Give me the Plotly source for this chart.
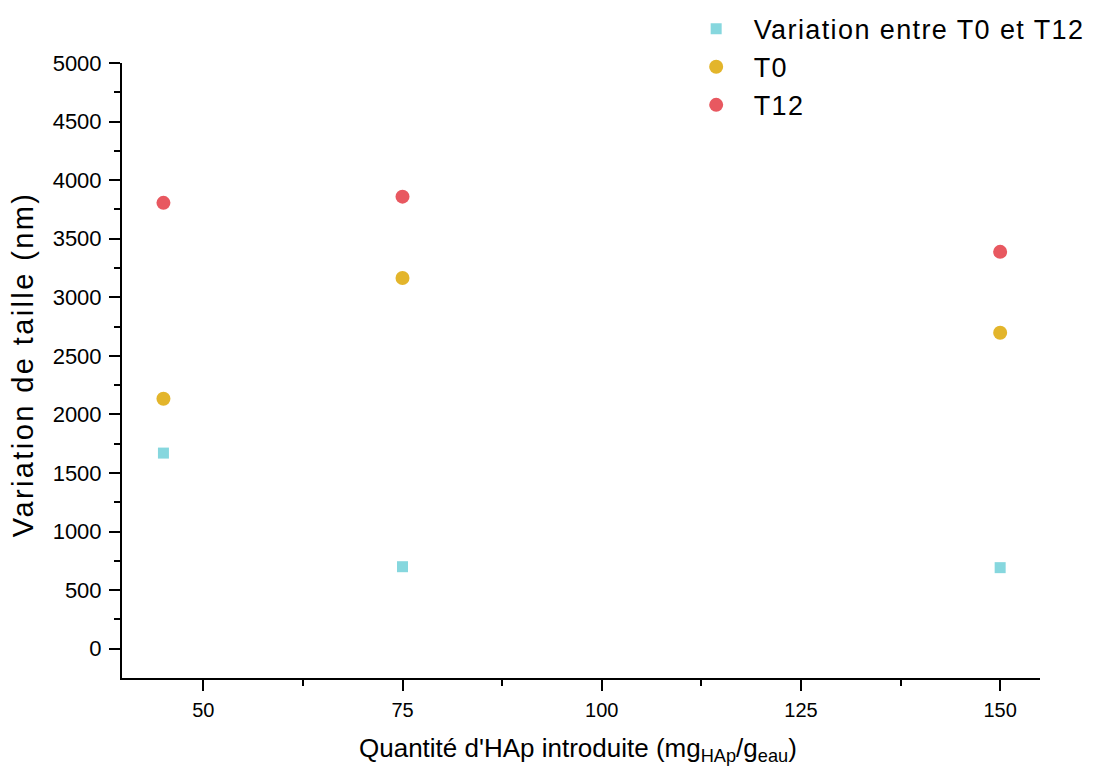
import plotly.graph_objects as go

x_vals = [45, 75, 150]
variation = [1670, 700, 692]
t0 = [2134, 3165, 2697]
t12 = [3806, 3859, 3388]

y_ticks = list(range(0, 5001, 500))
y_minor = list(range(250, 5000, 500))
x_ticks = [50, 75, 100, 125, 150]
x_minor = [62.5, 87.5, 112.5, 137.5]

names = ["Variation entre T0 et T12", "T0", "T12"]

col_var = "rgb(134,215,222)"
col_t0 = "rgb(227,181,43)"
col_t12 = "rgb(232,88,96)"


def spaced(txt, px):
    return '<span style="letter-spacing:%spx">%s</span>' % (px, txt)


fig = go.Figure()
fig.add_trace(go.Scatter(x=x_vals, y=variation, mode="markers", name=spaced(names[0], 1.4),
                         marker=dict(symbol="square", size=11, color=col_var)))
fig.add_trace(go.Scatter(x=x_vals, y=t0, mode="markers", name=spaced(names[1], 1.4),
                         marker=dict(symbol="circle", size=14, color=col_t0)))
fig.add_trace(go.Scatter(x=x_vals, y=t12, mode="markers", name=spaced(names[2], 1.4),
                         marker=dict(symbol="circle", size=14, color=col_t12)))

font_family = "Liberation Sans, Arial, sans-serif"
# page body has an 8px default margin; margins compensate so the plot area lands at
# x 122..1040, y 63..678 in the browser window
fig.update_layout(
    width=1096, height=771,
    margin=dict(l=114, r=64, t=55, b=101, autoexpand=False),
    plot_bgcolor="white", paper_bgcolor="white",
    font=dict(family=font_family, color="black", size=20),
    legend=dict(x=0.6064, y=1.095, xanchor="left", yanchor="top",
                font=dict(size=27), bgcolor="rgba(0,0,0,0)",
                itemwidth=65, tracegroupgap=0),
    showlegend=True,
)
fig.update_xaxes(
    range=[39.8, 155.0], tickvals=x_ticks, automargin=False,
    showgrid=False, zeroline=False, showline=True, linecolor="black", linewidth=2,
    ticks="outside", ticklen=11, tickwidth=2, tickcolor="black",
    tickfont=dict(size=20), ticklabelstandoff=2,
    minor=dict(tickvals=x_minor, ticks="outside", ticklen=6, tickwidth=2, tickcolor="black", showgrid=False),
)
fig.update_yaxes(
    range=[-250, 5000], tickvals=y_ticks, automargin=False,
    showgrid=False, zeroline=False, showline=True, linecolor="black", linewidth=2,
    ticks="outside", ticklen=11, tickwidth=2, tickcolor="black",
    tickfont=dict(size=22), ticklabelstandoff=3,
    minor=dict(tickvals=y_minor, ticks="outside", ticklen=6, tickwidth=2, tickcolor="black", showgrid=False),
)
fig.add_annotation(text=spaced("Variation de taille (nm)", 2.4), xref="paper", yref="paper",
                   x=-0.108, y=0.51, xanchor="center", yanchor="middle", textangle=-90,
                   showarrow=False, font=dict(size=29))
fig.add_annotation(text="Quantité d'HAp introduite (mg<sub>HAp</sub>/g<sub>eau</sub>)",
                   xref="paper", yref="paper", x=0.497, y=-0.117, xanchor="center", yanchor="middle",
                   showarrow=False, font=dict(size=26))
fig.write_html("out.html")
